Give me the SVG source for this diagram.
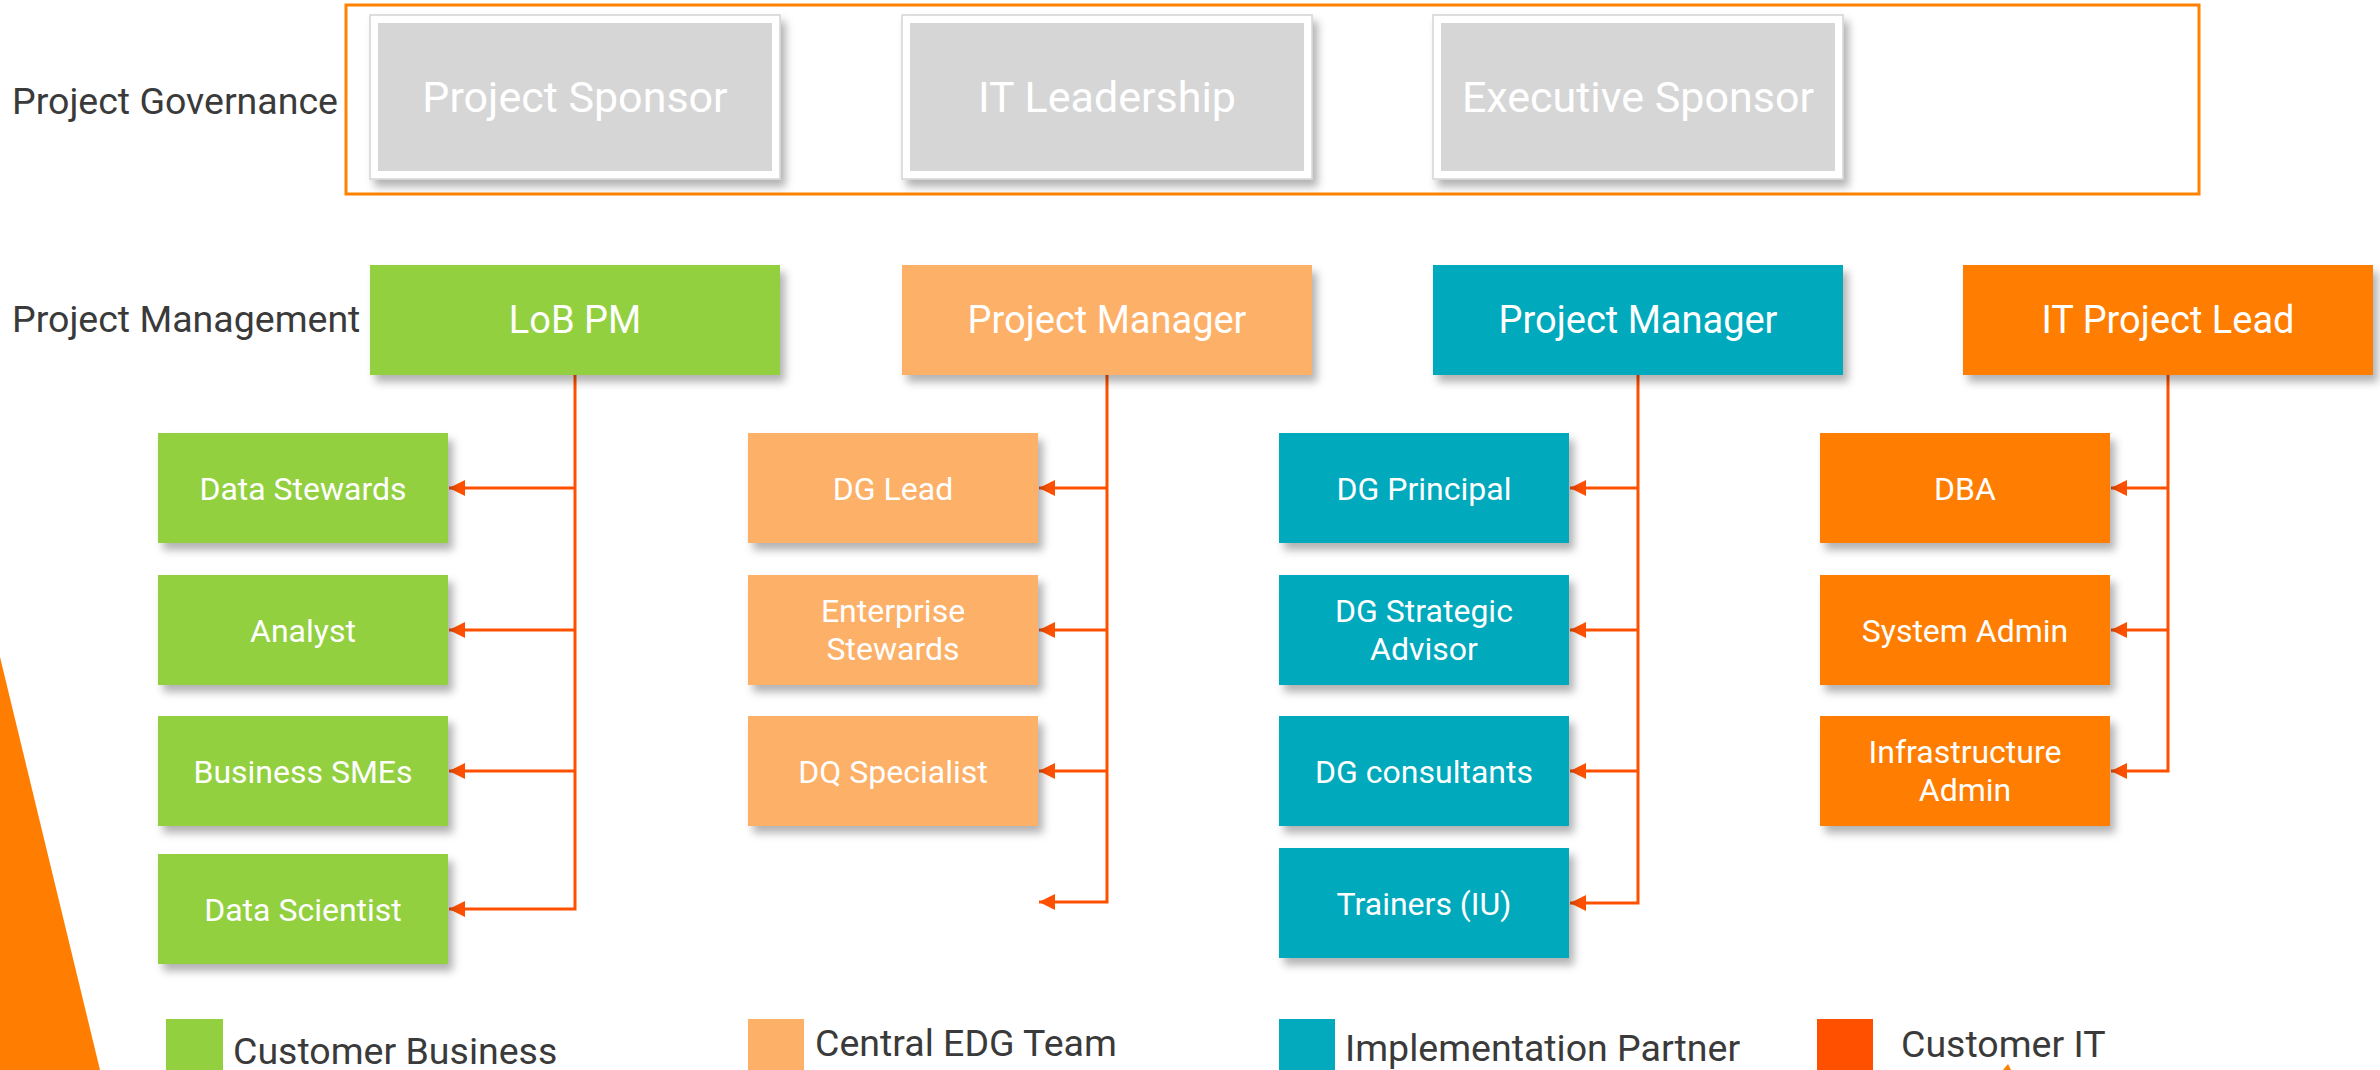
<svg xmlns="http://www.w3.org/2000/svg" width="2380" height="1070" viewBox="0 0 2380 1070">
<defs>
<filter id="sh" x="-10%" y="-10%" width="130%" height="140%">
<feDropShadow dx="5" dy="7" stdDeviation="4" flood-color="#000" flood-opacity="0.3"/>
</filter>
<marker id="arr" markerUnits="userSpaceOnUse" markerWidth="18" markerHeight="18" refX="16" refY="8" orient="auto">
<path d="M0,0 L16,8 L0,16 Z" fill="#FF5000"/>
</marker>
<style>
text{font-family:Roboto,"Liberation Sans",sans-serif;}
.lbl{font-size:37.5px;fill:#3a3a3a;}
.gov{font-size:43px;fill:#ffffff;text-anchor:middle;}
.hd{font-size:38px;fill:#ffffff;text-anchor:middle;}
.ch{font-size:32px;fill:#ffffff;text-anchor:middle;}
.leg{font-size:37.5px;fill:#3a3a3a;}
.g{fill:#92D040;}
.o{fill:#FDB068;}
.t{fill:#03A9BC;}
.r{fill:#FF7D00;}
.con{fill:none;stroke:#FF5000;stroke-width:3;}
</style>
</defs>
<rect width="2380" height="1070" fill="#ffffff"/>
<polygon points="0,657 100,1070 0,1070" fill="#FF7D00"/>
<polygon points="2003,1070 2008,1064 2011,1070" fill="#FF7D00"/>

<text class="lbl" x="12" y="114">Project Governance</text>
<text class="lbl" x="12" y="332">Project Management</text>

<rect x="346" y="5" width="1853" height="189" fill="none" stroke="#FF8200" stroke-width="3"/>

<g id="project-sponsor">
<rect x="370" y="15" width="410" height="164" fill="#fff" stroke="#d4d4d4" stroke-width="1.5" filter="url(#sh)"/>
<rect x="378" y="23" width="394" height="148" fill="#D6D6D6"/>
<text class="gov" x="575" y="112">Project Sponsor</text>
</g>
<g id="it-leadership">
<rect x="902" y="15" width="410" height="164" fill="#fff" stroke="#d4d4d4" stroke-width="1.5" filter="url(#sh)"/>
<rect x="910" y="23" width="394" height="148" fill="#D6D6D6"/>
<text class="gov" x="1107" y="112">IT Leadership</text>
</g>
<g id="executive-sponsor">
<rect x="1433" y="15" width="410" height="164" fill="#fff" stroke="#d4d4d4" stroke-width="1.5" filter="url(#sh)"/>
<rect x="1441" y="23" width="394" height="148" fill="#D6D6D6"/>
<text class="gov" x="1638" y="112">Executive Sponsor</text>
</g>

<g id="connectors">
<path class="con" d="M575,375 V909 H449" marker-end="url(#arr)"/>
<path class="con" d="M575,488 H449" marker-end="url(#arr)"/>
<path class="con" d="M575,630 H449" marker-end="url(#arr)"/>
<path class="con" d="M575,771 H449" marker-end="url(#arr)"/>

<path class="con" d="M1107,375 V902 H1039" marker-end="url(#arr)"/>
<path class="con" d="M1107,488 H1039" marker-end="url(#arr)"/>
<path class="con" d="M1107,630 H1039" marker-end="url(#arr)"/>
<path class="con" d="M1107,771 H1039" marker-end="url(#arr)"/>

<path class="con" d="M1638,375 V903 H1570" marker-end="url(#arr)"/>
<path class="con" d="M1638,488 H1570" marker-end="url(#arr)"/>
<path class="con" d="M1638,630 H1570" marker-end="url(#arr)"/>
<path class="con" d="M1638,771 H1570" marker-end="url(#arr)"/>

<path class="con" d="M2168,375 V771 H2111" marker-end="url(#arr)"/>
<path class="con" d="M2168,488 H2111" marker-end="url(#arr)"/>
<path class="con" d="M2168,630 H2111" marker-end="url(#arr)"/>
</g>

<g id="lob-pm"><rect class="g" x="370" y="265" width="410" height="110" filter="url(#sh)"/><text class="hd" x="575" y="333">LoB PM</text></g>
<g id="project-manager-edg"><rect class="o" x="902" y="265" width="410" height="110" filter="url(#sh)"/><text class="hd" x="1107" y="333">Project Manager</text></g>
<g id="project-manager-partner"><rect class="t" x="1433" y="265" width="410" height="110" filter="url(#sh)"/><text class="hd" x="1638" y="333">Project Manager</text></g>
<g id="it-project-lead"><rect class="r" x="1963" y="265" width="410" height="110" filter="url(#sh)"/><text class="hd" x="2168" y="333">IT Project Lead</text></g>

<g id="data-stewards"><rect class="g" x="158" y="433" width="290" height="110" filter="url(#sh)"/><text class="ch" x="303" y="499.5">Data Stewards</text></g>
<g id="analyst"><rect class="g" x="158" y="575" width="290" height="110" filter="url(#sh)"/><text class="ch" x="303" y="641.5">Analyst</text></g>
<g id="business-smes"><rect class="g" x="158" y="716" width="290" height="110" filter="url(#sh)"/><text class="ch" x="303" y="782.5">Business SMEs</text></g>
<g id="data-scientist"><rect class="g" x="158" y="854" width="290" height="110" filter="url(#sh)"/><text class="ch" x="303" y="920.5">Data Scientist</text></g>

<g id="dg-lead"><rect class="o" x="748" y="433" width="290" height="110" filter="url(#sh)"/><text class="ch" x="893" y="499.5">DG Lead</text></g>
<g id="enterprise-stewards"><rect class="o" x="748" y="575" width="290" height="110" filter="url(#sh)"/><text class="ch" x="893" y="621.5">Enterprise</text><text class="ch" x="893" y="660">Stewards</text></g>
<g id="dq-specialist"><rect class="o" x="748" y="716" width="290" height="110" filter="url(#sh)"/><text class="ch" x="893" y="782.5">DQ Specialist</text></g>

<g id="dg-principal"><rect class="t" x="1279" y="433" width="290" height="110" filter="url(#sh)"/><text class="ch" x="1424" y="499.5">DG Principal</text></g>
<g id="dg-strategic-advisor"><rect class="t" x="1279" y="575" width="290" height="110" filter="url(#sh)"/><text class="ch" x="1424" y="621.5">DG Strategic</text><text class="ch" x="1424" y="660">Advisor</text></g>
<g id="dg-consultants"><rect class="t" x="1279" y="716" width="290" height="110" filter="url(#sh)"/><text class="ch" x="1424" y="782.5">DG consultants</text></g>
<g id="trainers"><rect class="t" x="1279" y="848" width="290" height="110" filter="url(#sh)"/><text class="ch" x="1424" y="914.5">Trainers (IU)</text></g>

<g id="dba"><rect class="r" x="1820" y="433" width="290" height="110" filter="url(#sh)"/><text class="ch" x="1965" y="499.5">DBA</text></g>
<g id="system-admin"><rect class="r" x="1820" y="575" width="290" height="110" filter="url(#sh)"/><text class="ch" x="1965" y="641.5">System Admin</text></g>
<g id="infrastructure-admin"><rect class="r" x="1820" y="716" width="290" height="110" filter="url(#sh)"/><text class="ch" x="1965" y="762.5">Infrastructure</text><text class="ch" x="1965" y="801">Admin</text></g>

<g id="legend">
<rect class="g" x="166" y="1019" width="57" height="51"/>
<text class="leg" x="233" y="1064">Customer Business</text>
<rect class="o" x="748" y="1019" width="56" height="51"/>
<text class="leg" x="815" y="1056">Central EDG Team</text>
<rect class="t" x="1279" y="1019" width="56" height="51"/>
<text class="leg" x="1345" y="1061">Implementation Partner</text>
<rect x="1817" y="1019" width="56" height="51" fill="#FF5000"/>
<text class="leg" x="1901" y="1057">Customer IT</text>
</g>
</svg>
